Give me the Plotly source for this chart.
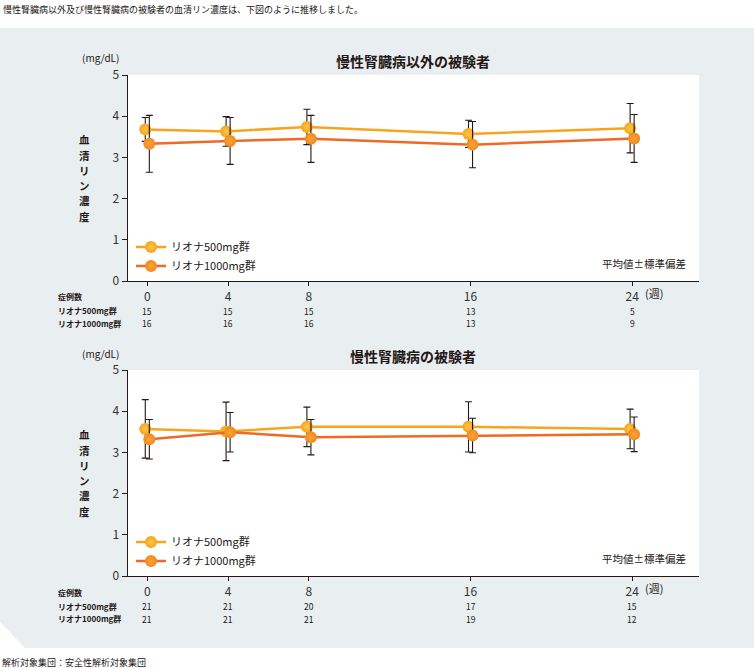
import plotly.graph_objects as go

W, H = 754, 668

# ---------------- data ----------------
weeks = [0, 4, 8, 16, 24]
week_labels = ["0", "4", "8", "16", "24"]
series_names = ["リオナ500mg群", "リオナ1000mg群"]

# 慢性腎臓病以外の被験者
top_500_mean = [3.68, 3.63, 3.74, 3.57, 3.71]
top_500_sd = [0.29, 0.36, 0.43, 0.33, 0.60]
top_1000_mean = [3.33, 3.40, 3.45, 3.31, 3.46]
top_1000_sd = [0.69, 0.57, 0.57, 0.56, 0.58]
top_n_500 = [15, 15, 15, 13, 5]
top_n_1000 = [16, 16, 16, 13, 9]

# 慢性腎臓病の被験者
bot_500_mean = [3.57, 3.51, 3.62, 3.62, 3.57]
bot_500_sd = [0.71, 0.71, 0.48, 0.61, 0.48]
bot_1000_mean = [3.32, 3.49, 3.37, 3.41, 3.44]
bot_1000_sd = [0.48, 0.48, 0.43, 0.42, 0.42]
bot_n_500 = [21, 21, 20, 17, 15]
bot_n_1000 = [21, 21, 21, 19, 12]

y_ticks = [0, 1, 2, 3, 4, 5]

# ---------------- style ----------------
FONT = "Noto Sans CJK JP"
TXT = "#231815"
GRAY_BG = "#e9eef1"
C500_LINE, C500_EDGE, C500_CENTER = "#f7a51f", "#f6a41c", "#fcc74a"
C1000_LINE, C1000_EDGE, C1000_CENTER = "#ee6a25", "#f08a22", "#f7a436"
DODGE = 0.1


def px(x):
    return x / W


def py(y):
    return 1 - y / H


PLOT_L, PLOT_R = 127.7, 699
PANELS = [
    dict(top=75, bottom=281, xa="x", ya="y", title="慢性腎臓病以外の被験者",
         m500=top_500_mean, s500=top_500_sd, m1000=top_1000_mean, s1000=top_1000_sd,
         n500=top_n_500, n1000=top_n_1000, legend="legend"),
    dict(top=370, bottom=576, xa="x2", ya="y2", title="慢性腎臓病の被験者",
         m500=bot_500_mean, s500=bot_500_sd, m1000=bot_1000_mean, s1000=bot_1000_sd,
         n500=bot_n_500, n1000=bot_n_1000, legend="legend2"),
]

fig = go.Figure()
shapes = [
    dict(type="path", xref="paper", yref="paper", layer="below", line=dict(width=0),
         fillcolor=GRAY_BG,
         path=f"M 0,{py(28)} L 1,{py(28)} L 1,{py(648)} L {px(25)},{py(648)} L 0,{py(622)} Z"),
]
annotations = [
    dict(text="慢性腎臓病以外及び慢性腎臓病の被験者の血清リン濃度は、下図のように推移しました。",
         x=px(1), y=py(10), xref="paper", yref="paper", xanchor="left", yanchor="middle",
         showarrow=False, font=dict(size=9, color=TXT, family=FONT)),
    dict(text="解析対象集団：安全性解析対象集団",
         x=px(0), y=py(662), xref="paper", yref="paper", xanchor="left", yanchor="middle",
         showarrow=False, font=dict(size=9, color=TXT, family=FONT)),
]

for i, p in enumerate(PANELS):
    top, bot = p["top"], p["bottom"]
    shapes.append(dict(type="rect", xref="paper", yref="paper", layer="below",
                       x0=px(PLOT_L), x1=px(PLOT_R), y0=py(bot), y1=py(top),
                       fillcolor="white", line=dict(width=0)))
    specs = [
        (series_names[0], p["m500"], p["s500"], -DODGE, C500_LINE, C500_EDGE, C500_CENTER),
        (series_names[1], p["m1000"], p["s1000"], DODGE, C1000_LINE, C1000_EDGE, C1000_CENTER),
    ]
    for name, m, s, off, cl, ce, cc in specs:
        fig.add_trace(go.Scatter(
            x=[w + off for w in weeks], y=m, name=name, mode="lines+markers",
            xaxis=p["xa"], yaxis=p["ya"], legend=p["legend"],
            line=dict(color=cl, width=2.5),
            marker=dict(size=12, color=ce, gradient=dict(type="radial", color=cc),
                        line=dict(width=0)),
            error_y=dict(type="data", array=s, visible=True, color=TXT,
                         thickness=1.1, width=3.5),
        ))
    # titles and labels
    annotations.append(dict(text=f"<b>{p['title']}</b>", x=px(413), y=py(top - 14),
                            xref="paper", yref="paper", xanchor="center", yanchor="middle",
                            showarrow=False, font=dict(size=14, color=TXT, family=FONT)))
    annotations.append(dict(text="(mg/dL)", x=px(100), y=py(top - 17),
                            xref="paper", yref="paper", xanchor="center", yanchor="middle",
                            showarrow=False, font=dict(size=10, color=TXT, family=FONT)))
    title_chars = "血清リン濃度"
    mid = (top + bot) / 2
    step = 15.3
    for k, ch in enumerate(title_chars):
        yy = mid + (k - (len(title_chars) - 1) / 2) * step
        annotations.append(dict(text=f"<b>{ch}</b>", x=px(84), y=py(yy),
                                xref="paper", yref="paper", xanchor="center", yanchor="middle",
                                showarrow=False, font=dict(size=10.5, color=TXT, family=FONT)))
    annotations.append(dict(text="(週)", x=px(643), y=py(bot + 12),
                            xref="paper", yref="paper", xanchor="left", yanchor="middle",
                            showarrow=False, font=dict(size=11, color=TXT, family=FONT)))
    annotations.append(dict(text="平均値±標準偏差", x=px(688), y=py(bot - 18),
                            xref="paper", yref="paper", xanchor="right", yanchor="middle",
                            showarrow=False, font=dict(size=10.5, color=TXT, family=FONT)))
    # case counts table
    annotations.append(dict(text="<b>症例数</b>", x=px(56), y=py(bot + 16),
                            xref="paper", yref="paper", xanchor="left", yanchor="middle",
                            showarrow=False, font=dict(size=8, color=TXT, family=FONT)))
    for rname, counts, dy in [(series_names[0], p["n500"], 30), (series_names[1], p["n1000"], 42.5)]:
        annotations.append(dict(text=f"<b>{rname}</b>", x=px(56), y=py(bot + dy),
                                xref="paper", yref="paper", xanchor="left", yanchor="middle",
                                showarrow=False, font=dict(size=8, color=TXT, family=FONT)))
        for w, c in zip(weeks, counts):
            annotations.append(dict(text=str(c), x=w, y=py(bot + dy),
                                    xref=p["xa"], yref="paper", xanchor="center", yanchor="middle",
                                    showarrow=False, font=dict(size=8.5, color=TXT, family=FONT)))

axis_common = dict(showgrid=False, zeroline=False, showline=True, linecolor=TXT, linewidth=1.2,
                   ticks="outside", tickcolor=TXT, tickwidth=1,
                   tickfont=dict(size=12, color="#333333", family=FONT))

layout = dict(
    width=W, height=H, margin=dict(l=0, r=0, t=0, b=0, pad=0, autoexpand=False),
    paper_bgcolor="white", plot_bgcolor="rgba(0,0,0,0)",
    font=dict(family=FONT, color=TXT),
    shapes=shapes, annotations=annotations,
)
for i, p in enumerate(PANELS):
    sx = "" if i == 0 else str(i + 1)
    layout["xaxis" + sx] = dict(axis_common, domain=[px(PLOT_L), px(PLOT_R)],
                                anchor=p["ya"], range=[-0.97, 27.31],
                                tickvals=weeks, ticktext=week_labels, ticklen=4)
    layout["yaxis" + sx] = dict(axis_common, domain=[py(p["bottom"]), py(p["top"])],
                                anchor=p["xa"], range=[0, 5], tickvals=y_ticks, ticklen=5)
    legend_key = "legend" if i == 0 else "legend2"
    layout[legend_key] = dict(x=px(131), y=py(p["bottom"] - 48.5), xanchor="left", yanchor="top",
                              bgcolor="rgba(0,0,0,0)", borderwidth=0,
                              font=dict(size=11, color=TXT, family=FONT),
                              tracegroupgap=0)

fig.update_layout(**layout)
fig.write_html("out.html")
